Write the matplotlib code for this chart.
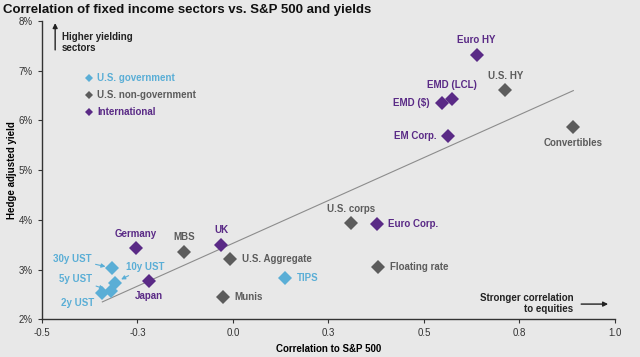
import matplotlib
matplotlib.use('Agg')
import matplotlib.pyplot as plt

plt.rcParams['font.family'] = ['Liberation Sans', 'DejaVu Sans']

# Data: (correlation to S&P 500, hedge adjusted yield %)
gov_names = ['2y UST', '5y UST', '10y UST', '30y UST', 'TIPS']
gov_x = [-0.344, -0.320, -0.309, -0.316, 0.136]
gov_y = [2.52, 2.57, 2.74, 3.03, 2.84]

nongov_names = ['MBS', 'U.S. Aggregate', 'Munis', 'U.S. corps', 'Floating rate', 'U.S. HY', 'Convertibles']
nongov_x = [-0.128, -0.008, -0.026, 0.308, 0.380, 0.713, 0.891]
nongov_y = [3.36, 3.22, 2.45, 3.93, 3.05, 6.61, 5.86]

intl_names = ['Germany', 'Japan', 'UK', 'Euro Corp.', 'Euro HY', 'EMD (LCL)', 'EMD ($)', 'EM Corp.']
intl_x = [-0.255, -0.220, -0.031, 0.376, 0.638, 0.574, 0.546, 0.563]
intl_y = [3.43, 2.78, 3.50, 3.91, 7.32, 6.43, 6.35, 5.69]

trend_x = [-0.342, 0.891]
trend_y = [2.35, 6.60]

x_ticks = [-0.5, -0.25, 0.0, 0.25, 0.5, 0.75, 1.0]
x_tick_labels = ['-0.5', '-0.3', '0.0', '0.3', '0.5', '0.8', '1.0']
y_ticks = [2, 3, 4, 5, 6, 7, 8]
y_tick_labels = ['2%', '3%', '4%', '5%', '6%', '7%', '8%']

# Styles
BG = '#e8e8e8'
C_GOV = '#5aaed6'
C_NONGOV = '#5c5c5c'
C_INTL = '#5a2a86'

# Label layout: name -> (dx pt, dy pt, ha, arrow)
label_pos = {
    'Euro HY': (0, 11, 'center', False),
    'U.S. HY': (0, 10, 'center', False),
    'EMD (LCL)': (0, 10, 'center', False),
    'EMD ($)': (-8.5, 0, 'right', False),
    'EM Corp.': (-8, 0, 'right', False),
    'Convertibles': (0, -11.5, 'center', False),
    'U.S. corps': (0, 10, 'center', False),
    'Euro Corp.': (8, 0, 'left', False),
    'Floating rate': (8.5, 0, 'left', False),
    'Germany': (0, 10, 'center', False),
    'MBS': (0, 10.5, 'center', False),
    'UK': (0, 10.5, 'center', False),
    'U.S. Aggregate': (8.5, 0, 'left', False),
    'TIPS': (8.5, 0, 'left', False),
    'Munis': (8.5, 0, 'left', False),
    'Japan': (0, -11, 'center', False),
    '2y UST': (-5, -7, 'right', False),
    '30y UST': (-15, 6.5, 'right', True),
    '10y UST': (8, 11, 'left', True),
    '5y UST': (-13.5, 8.5, 'right', True),
}


def main():
    fig = plt.figure(figsize=(6.4, 3.57), dpi=100, facecolor=BG)
    ax = fig.add_axes([0.0656, 0.1056, 0.8953, 0.8356], facecolor=BG)

    ax.plot(trend_x, trend_y, color='#8c8c8c', linewidth=0.8, zorder=1)

    groups = [
        (gov_names, gov_x, gov_y, C_GOV),
        (nongov_names, nongov_x, nongov_y, C_NONGOV),
        (intl_names, intl_x, intl_y, C_INTL),
    ]
    for names, xs, ys, color in groups:
        ax.plot(xs, ys, linestyle='none', marker='D', markersize=7,
                color=color, markeredgewidth=0, zorder=3)
        for name, x, y in zip(names, xs, ys):
            dx, dy, ha, arrow = label_pos[name]
            props = None
            if arrow:
                props = dict(arrowstyle='-|>', color=color, lw=0.8,
                             mutation_scale=6, shrinkA=1, shrinkB=5)
            ax.annotate(name, (x, y), xytext=(dx, dy), textcoords='offset points',
                        ha=ha, va='center', fontsize=7, fontweight='bold',
                        color=color, arrowprops=props, zorder=4)

    # Axes styling
    ax.set_xlim(-0.5, 1.0)
    ax.set_ylim(2, 8)
    ax.set_xticks(x_ticks)
    ax.set_xticklabels(x_tick_labels)
    ax.set_yticks(y_ticks)
    ax.set_yticklabels(y_tick_labels)
    for side in ['top', 'right']:
        ax.spines[side].set_visible(False)
    for side in ['left', 'bottom']:
        ax.spines[side].set_color('#333333')
        ax.spines[side].set_linewidth(1.0)
    ax.tick_params(labelsize=7, colors='#333333', length=3, width=0.8)

    ax.set_xlabel('Correlation to S&P 500', fontsize=7, fontweight='bold', labelpad=4)
    ax.set_ylabel('Hedge adjusted yield', fontsize=7, fontweight='bold', labelpad=1)

    fig.text(0.004, 0.972, 'Correlation of fixed income sectors vs. S&P 500 and yields',
             fontsize=9.5, fontweight='bold', va='center', ha='left', color='#111111')

    # Legend drawn as markers and text in axes fraction
    legend_items = [('U.S. government', C_GOV), ('U.S. non-government', C_NONGOV),
                    ('International', C_INTL)]
    for i, (lab, color) in enumerate(legend_items):
        yy = 0.809 - i * 0.057
        ax.plot([0.082], [yy], marker='D', markersize=4.5, color=color,
                markeredgewidth=0, transform=ax.transAxes, clip_on=False)
        ax.text(0.096, yy, lab, transform=ax.transAxes, fontsize=7,
                fontweight='bold', color=color, va='center', ha='left')

    # Direction annotations
    ax.annotate('', xy=(0.023, 0.993), xytext=(0.023, 0.903), xycoords='axes fraction',
                arrowprops=dict(arrowstyle='-|>', color='#222222', lw=1.0, mutation_scale=7,
                                shrinkA=0, shrinkB=0))
    ax.text(0.035, 0.928, 'Higher yielding\nsectors', transform=ax.transAxes,
            fontsize=7, fontweight='bold', color='#222222', va='center', ha='left',
            linespacing=1.2)
    ax.text(0.927, 0.053, 'Stronger correlation\nto equities', transform=ax.transAxes,
            fontsize=7, fontweight='bold', color='#222222', va='center', ha='right',
            linespacing=1.2)
    ax.annotate('', xy=(0.988, 0.051), xytext=(0.941, 0.051), xycoords='axes fraction',
                arrowprops=dict(arrowstyle='-|>', color='#222222', lw=1.0, mutation_scale=7,
                                shrinkA=0, shrinkB=0))

    fig.savefig('out.png', dpi=100, facecolor=BG)


if __name__ == "__main__":
    main()
